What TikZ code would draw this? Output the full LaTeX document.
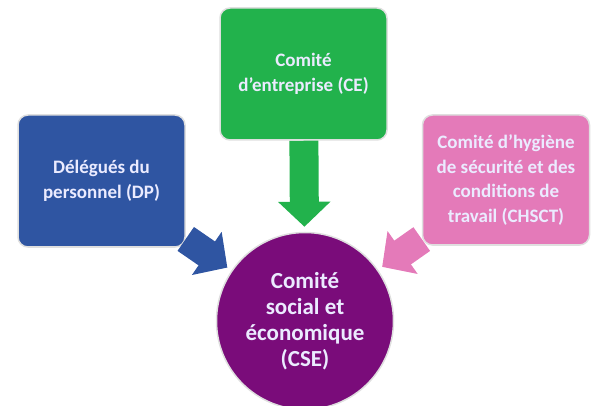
\documentclass[tikz,border=0pt]{standalone}
\usepackage{fontspec}
\setmainfont{Carlito}
\usetikzlibrary{arrows.meta}
\definecolor{dpblue}{HTML}{2F55A2}
\definecolor{cegreen}{HTML}{22B24C}
\definecolor{chpink}{HTML}{E47AB9}
\definecolor{csepurple}{HTML}{7A0C7A}

\begin{document}
\begin{tikzpicture}[x=1pt, y=-1pt,
    box/.style={draw=gray!25, line width=1.5pt, rounded corners=10pt,
        minimum width=167pt, minimum height=132pt,
        align=center, text=white!92!blue,
        font=\fontsize{19}{24.5}\selectfont\bfseries},
    flow/.style={line width=29pt, -{Triangle[length=25pt,width=51pt]},
        shorten >=5pt}]
    \useasboundingbox (0,0) rectangle (597,406);
    % les trois instances
    \node[box, fill=dpblue] (dp) at (101.5,181) {Délégués du\\personnel (DP)};
    \node[box, fill=cegreen] (ce) at (303.5,74) {Comité\\d'entreprise (CE)};
    \node[box, fill=chpink, minimum height=130pt] (chsct) at (506,180)
        {Comité d'hygiène\\de sécurité et des\\conditions de\\travail (CHSCT)};
    % le CSE
    \node[circle, draw=gray!25, line width=1.5pt, fill=csepurple,
        minimum size=177pt, align=center, text=white!92!blue,
        font=\fontsize{23}{26}\selectfont\bfseries]
        (cse) at (305,321) {Comité\\social et\\économique\\(CSE)};
    % les flèches
    \draw[flow, dpblue] (dp) -- (cse);
    \draw[flow, cegreen] (ce) -- (cse);
    \draw[flow, chpink] (chsct) -- (cse);
\end{tikzpicture}
\end{document}
